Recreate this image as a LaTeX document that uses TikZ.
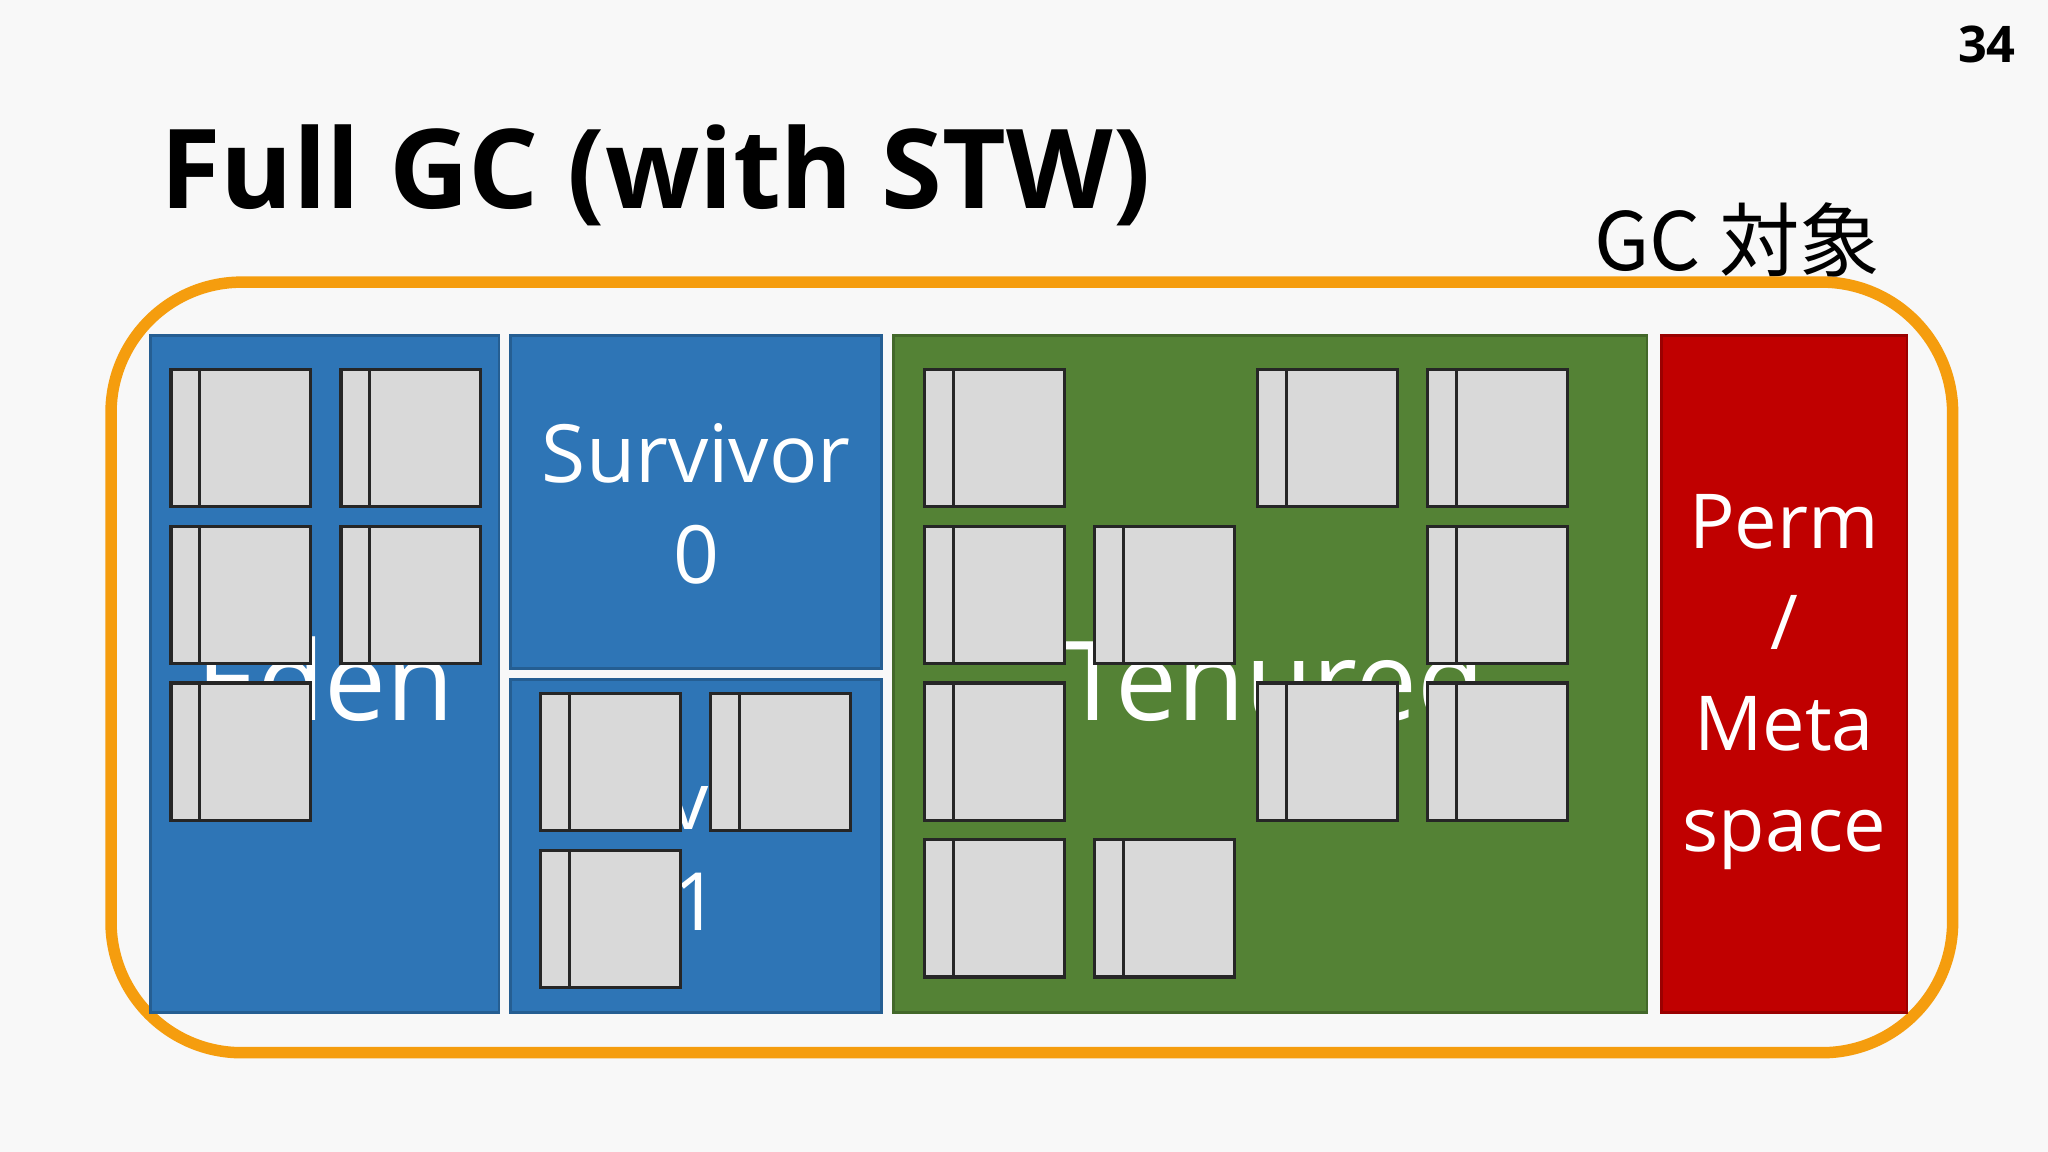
\documentclass[tikz,border=0pt]{standalone}
\usepackage{fontspec}
\setmainfont{Open Sans}
\newfontfamily\cjk{Noto Sans CJK JP}
\definecolor{bg}{HTML}{F8F8F8}
\definecolor{bl}{HTML}{2E75B6}
\definecolor{gr}{HTML}{548235}
\definecolor{rd}{HTML}{C00000}
\definecolor{og}{HTML}{F59D0E}
\definecolor{sq}{HTML}{D9D9D9}
\begin{document}
\begin{tikzpicture}[x=0.01cm,y=-0.01cm,
  area/.style={draw=#1!80!black,line width=0.6pt,fill=#1},
  lbl/.style={text=white,font=\fontsize{17.5}{22}\selectfont,align=center},
  big/.style={text=white,font=\fontsize{24}{29}\selectfont},
  obj/.style={draw=black!85,line width=0.7pt,fill=sq}]
\fill[bg] (0,0) rectangle (1568,882);
\useasboundingbox (0,0) rectangle (1568,882);
\node[anchor=base west,inner sep=0,font=\fontsize{24}{29}\selectfont\bfseries] (title) at (122,160) {Full GC (with STW)};
\node[anchor=base east,inner sep=0,font=\fontsize{11}{13}\selectfont\bfseries] (page) at (1544,48) {34};
\node[anchor=base west,inner sep=0,font=\fontsize{17.5}{21}\selectfont\cjk] (target) at (1220,207) {GC 対象};
\draw[og,line width=2.5pt,rounded corners=1cm] (85,216) rectangle (1495,806);
\draw[area=bl] (115,257) rectangle (382,775);
\draw[area=bl] (391,257) rectangle (675,512);
\draw[area=bl] (391,520) rectangle (675,775);
\draw[area=gr] (684,257) rectangle (1261,775);
\draw[area=rd] (1272,257) rectangle (1460,775);
\node[big,anchor=base] (eden) at (249,552) {Eden};
\node[lbl] (s0) at (533,386) {Survivor\\0};
\node[lbl] (s1) at (533,651) {Survivor\\1};
\node[big,anchor=base] (ten) at (975,552) {Tenured};
\node[lbl,font=\fontsize{16.5}{22}\selectfont] (perm) at (1366,522) {Perm\\/\\Meta\\space};
\foreach \x/\y in {131/283,261/283,131/403,261/403,131/523,
  414/531,544/531,414/651,
  708/283,963/283,1093/283,708/403,838/403,1093/403,708/523,963/523,1093/523,708/643,838/643}{
  \draw[obj] (\x,\y) rectangle ++(107,105);
  \draw[black!85,line width=0.7pt] (\x+22,\y) -- ++(0,105);
}
\end{tikzpicture}
\end{document}
